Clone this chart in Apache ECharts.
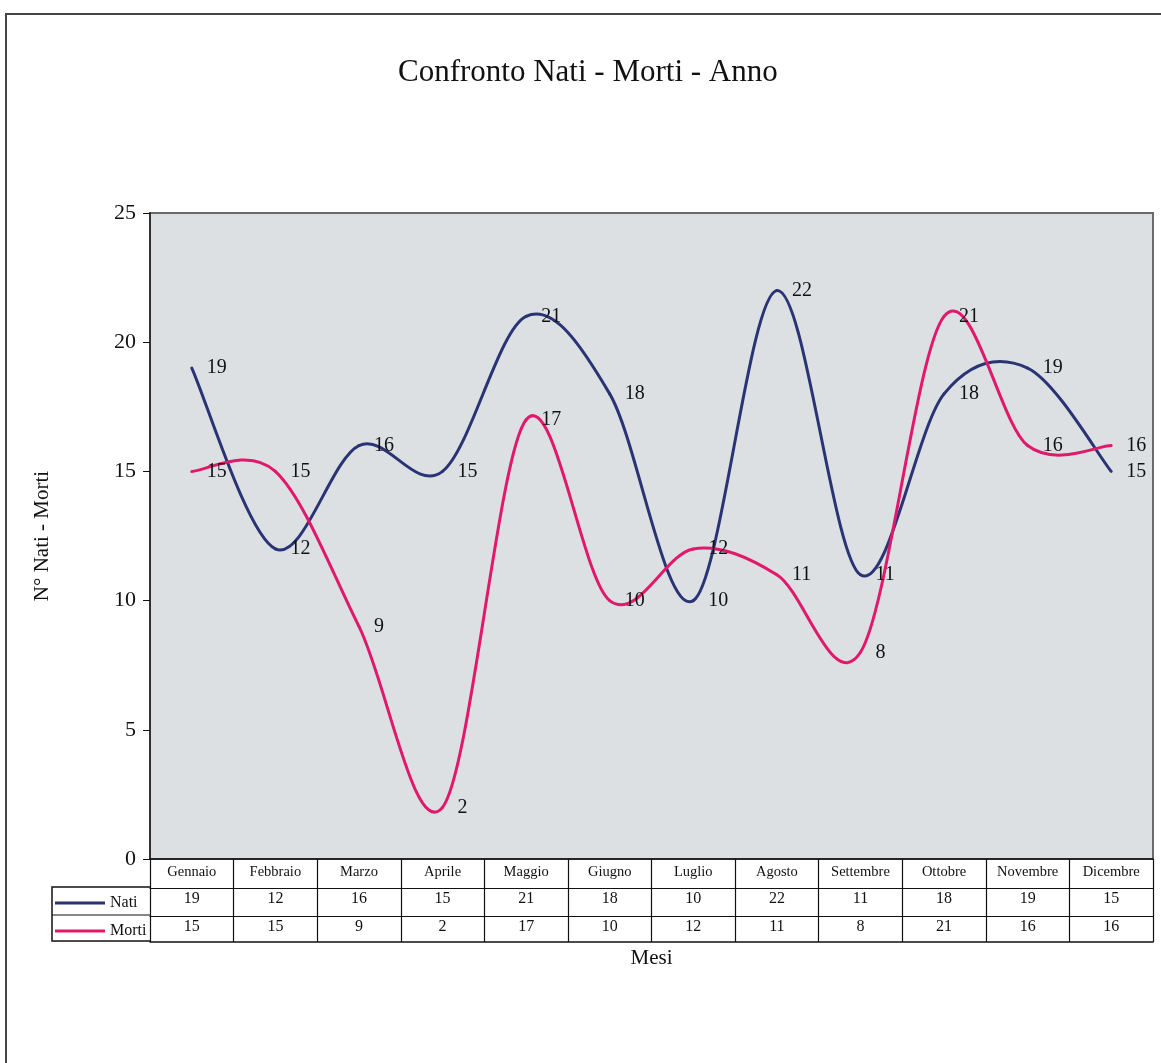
<!DOCTYPE html>
<html>
<head>
<meta charset="utf-8">
<script src="https://cdn.jsdelivr.net/npm/echarts@6/dist/echarts.min.js"></script>
<style>
html,body{margin:0;padding:0;background:#fff;}
#c{width:1161px;height:1063px;}
</style>
</head>
<body>
<div id="c"></div>
<script>
var months = ['Gennaio','Febbraio','Marzo','Aprile','Maggio','Giugno','Luglio','Agosto','Settembre','Ottobre','Novembre','Dicembre'];
var nati  = [19, 12, 16, 15, 21, 18, 10, 22, 11, 18, 19, 15];
var morti = [15, 15, 9, 2, 17, 10, 12, 11, 8, 21, 16, 16];
var yTicks = [0, 5, 10, 15, 20, 25];

var FONT = '"Liberation Serif","DejaVu Serif",serif';
var NAVY = '#2a3474';
var PINK = '#e0196c';

var chart = echarts.init(document.getElementById('c'));

// Excel-like (Catmull-Rom) smoothed segment between point i and i+1, via the axes' coordinate system
function curveRenderer(arr, color) {
  return function (params, api) {
    var i = params.dataIndex;
    var n = arr.length;
    if (i >= n - 1) return null;
    var a = Math.max(i - 1, 0), d = Math.min(i + 2, n - 1);
    var p0 = api.coord([a, arr[a]]);
    var p1 = api.coord([i, arr[i]]);
    var p2 = api.coord([i + 1, arr[i + 1]]);
    var p3 = api.coord([d, arr[d]]);
    var c1 = [p1[0] + (p2[0] - p0[0]) / 6, p1[1] + (p2[1] - p0[1]) / 6];
    var c2 = [p2[0] - (p3[0] - p1[0]) / 6, p2[1] - (p3[1] - p1[1]) / 6];
    return {
      type: 'bezierCurve',
      shape: {x1: p1[0], y1: p1[1], x2: p2[0], y2: p2[1], cpx1: c1[0], cpy1: c1[1], cpx2: c2[0], cpy2: c2[1]},
      style: {stroke: color, lineWidth: 3, fill: 'none', lineCap: 'round'}
    };
  };
}

var labelStyle = {show:true, position:'right', distance:15, fontSize:20, color:'#111', fontFamily:FONT};

var option = {
  animation:false,
  backgroundColor:'#ffffff',
  title:{text:'Confronto Nati - Morti - Anno', left:393, top:52,
    textStyle:{fontSize:31, fontWeight:'normal', color:'#111', fontFamily:FONT}},
  legend:{orient:'vertical', left:50, top:889, itemGap:10, itemWidth:50, itemHeight:3,
    icon:'rect', selectedMode:false,
    textStyle:{fontSize:16, color:'#111', fontFamily:FONT, lineHeight:18},
    data:[{name:'Nati', itemStyle:{color:NAVY}},{name:'Morti', itemStyle:{color:PINK}}]},
  grid:{left:150, right:8, top:213, bottom:204, show:true, backgroundColor:'#dde0e3',
    borderColor:'#6a6a6a', borderWidth:2},
  xAxis:[
    {type:'category', data:months, boundaryGap:true, position:'bottom',
     axisLine:{show:true, lineStyle:{color:'#111', width:1.5}},
     axisTick:{show:true, length:83, lineStyle:{color:'#111', width:1.2}},
     axisLabel:{fontSize:14.5, color:'#111', fontFamily:FONT, margin:6, interval:0},
     name:'Mesi', nameLocation:'middle', nameGap:89,
     nameTextStyle:{fontSize:21, color:'#111', fontFamily:FONT}},
    {type:'category', data:months, position:'bottom', offset:29,
     axisLine:{show:true, lineStyle:{color:'#111', width:1.2}}, axisTick:{show:false},
     axisLabel:{fontSize:16, color:'#111', fontFamily:FONT, margin:3, interval:0,
       formatter:function(v, i){ return String(nati[i]); }}},
    {type:'category', data:months, position:'bottom', offset:57,
     axisLine:{show:true, lineStyle:{color:'#111', width:1.2}}, axisTick:{show:false},
     axisLabel:{fontSize:16, color:'#111', fontFamily:FONT, margin:3, interval:0,
       formatter:function(v, i){ return String(morti[i]); }}},
    {type:'category', data:months, position:'bottom', offset:83,
     axisLine:{show:true, lineStyle:{color:'#111', width:1.5}}, axisTick:{show:false},
     axisLabel:{show:false}}
  ],
  yAxis:{type:'value', min:yTicks[0], max:yTicks[yTicks.length-1], interval:5,
    axisLine:{show:true, lineStyle:{color:'#333', width:2}},
    axisTick:{show:true, length:7, lineStyle:{color:'#111'}},
    splitLine:{show:false},
    axisLabel:{fontSize:22, color:'#111', fontFamily:FONT, margin:14},
    name:'N° Nati - Morti', nameLocation:'middle', nameRotate:90, nameGap:97,
    nameTextStyle:{fontSize:21, color:'#111', fontFamily:FONT}},
  series:[
    {name:'Nati', type:'custom', data:nati.map(function(v,i){return [i,v];}),
     renderItem:curveRenderer(nati, NAVY), itemStyle:{color:NAVY}, z:3},
    {name:'Morti', type:'custom', data:morti.map(function(v,i){return [i,v];}),
     renderItem:curveRenderer(morti, PINK), itemStyle:{color:PINK}, z:3},
    {name:'Nati', type:'line', data:nati, symbol:'circle', symbolSize:0, showSymbol:true,
     lineStyle:{opacity:0}, itemStyle:{color:NAVY}, label:labelStyle, z:4},
    {name:'Morti', type:'line', data:morti, symbol:'circle', symbolSize:0, showSymbol:true,
     lineStyle:{opacity:0}, itemStyle:{color:PINK}, label:labelStyle, z:4}
  ],
  graphic:[
    {type:'rect', shape:{x:6, y:14, width:1200, height:1100}, style:{fill:'none', stroke:'#444', lineWidth:2}, silent:true},
    {type:'polyline', shape:{points:[[150,887],[52,887],[52,941],[150,941]]}, style:{fill:'none', stroke:'#111', lineWidth:1.5}, silent:true},
    {type:'line', shape:{x1:52, y1:915, x2:150, y2:915}, style:{stroke:'#111', lineWidth:1.2}, silent:true}
  ]
};
chart.setOption(option);
</script>
</body>
</html>
